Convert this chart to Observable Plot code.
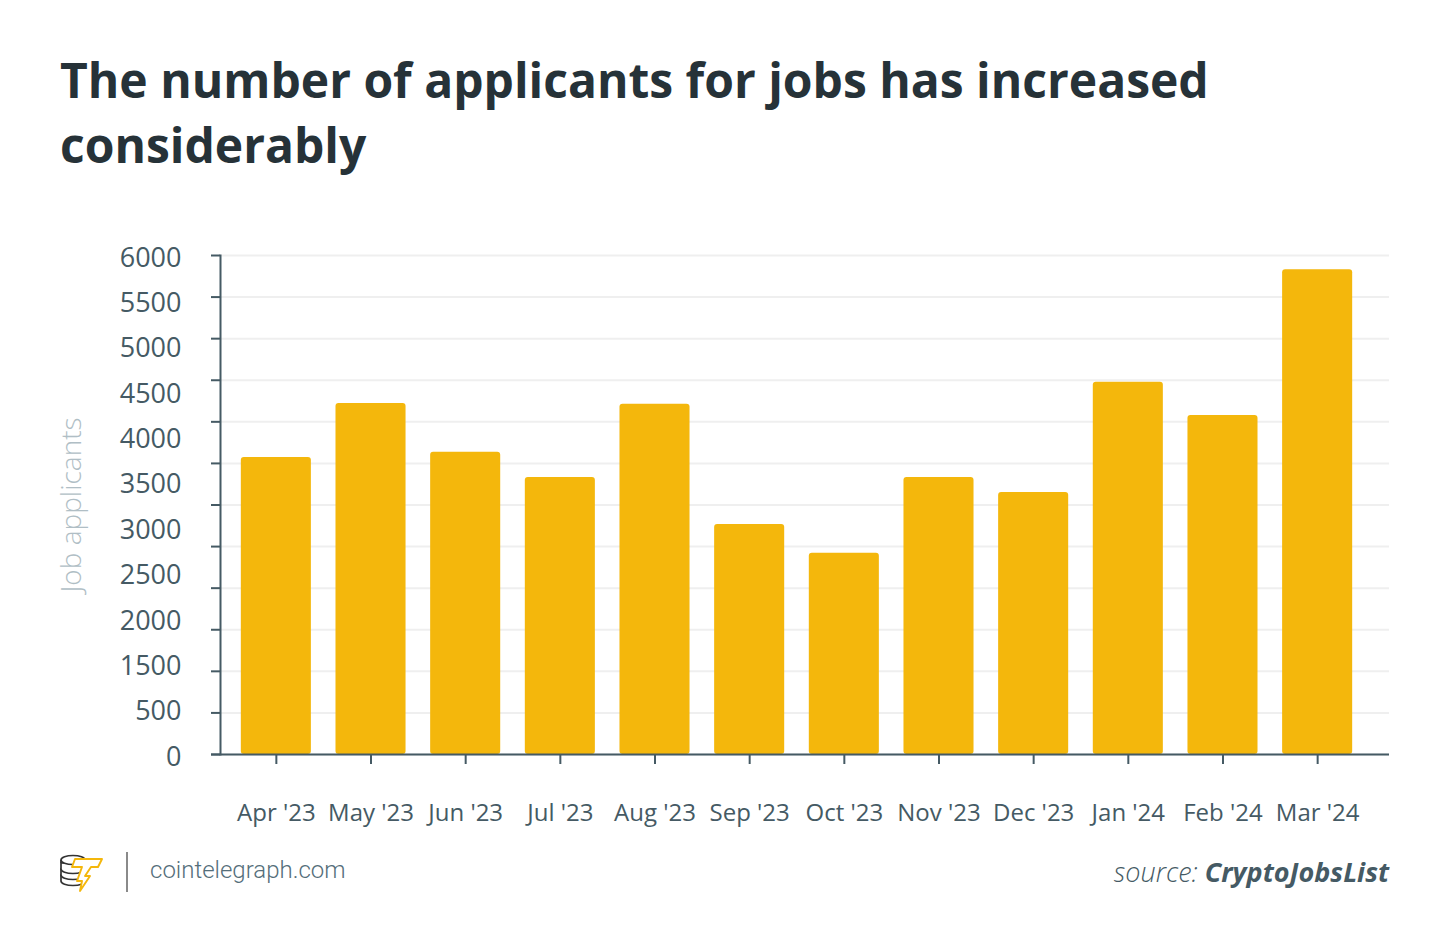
<!DOCTYPE html>
<html>
<head>
<meta charset="utf-8">
<script src="https://cdn.jsdelivr.net/npm/d3@7"></script>
<script src="https://cdn.jsdelivr.net/npm/@observablehq/plot@0.6"></script>
<style>
  html, body { margin: 0; padding: 0; background: #fff; }
  #root { position: relative; width: 1450px; height: 952px; background: #fff; overflow: hidden; }
  #title { position: absolute; left: 60px; top: 47px; font: 700 48px/65px 'Open Sans', sans-serif; color: #263238; white-space: nowrap; }
  #chart { position: absolute; left: 0; top: 230px; }
  #logo { position: absolute; left: 58px; top: 850px; }
  #divider { position: absolute; left: 126px; top: 852px; width: 2px; height: 40px; background: #8a8a8a; }
  #site { position: absolute; left: 150px; top: 858px; font: 300 24px/24px Roboto, sans-serif; color: #546e7a; white-space: nowrap; }
  #source { position: absolute; right: 61px; top: 858px; font: italic 300 27px/27px 'Open Sans', sans-serif; color: #455a64; white-space: nowrap; }
  #source b { font-weight: 700; }
</style>
</head>
<body>
<div id="root">
  <div id="title">The number of applicants for jobs has increased<br>considerably</div>
  <div id="chart"></div>
  <svg id="logo" width="46" height="44" viewBox="0 0 46 44">
    <g fill="#fff" stroke="#333" stroke-width="1.7">
      <path d="M3 31 a12 4.5 0 0 0 24 0 v-6 h-24 z"/>
      <path d="M3 25 a12 4.5 0 0 0 24 0 v-6 h-24 z"/>
      <path d="M3 19 a12 4.5 0 0 0 24 0 v-6 h-24 z"/>
      <ellipse cx="15" cy="10" rx="12" ry="4.5"/>
      <path d="M3 10 v3 M27 10 v3"/>
    </g>
    <path d="M17 9 L44 9 L40 17 L33 17 L27 26 L32 26 L22 41 L24 31 L19 31 L24 17 L14 17 Z" fill="#fff" stroke="#f4b70c" stroke-width="1.9" stroke-linejoin="round"/>
  </svg>
  <div id="divider"></div>
  <div id="site">cointelegraph.com</div>
  <div id="source">source: <b>CryptoJobsList</b></div>
</div>
<script>
const months = ["Apr '23", "May '23", "Jun '23", "Jul '23", "Aug '23", "Sep '23", "Oct '23", "Nov '23", "Dec '23", "Jan '24", "Feb '24", "Mar '24"];
const applicants = [3570, 4220, 3635, 3330, 4210, 2765, 2420, 3330, 3150, 4475, 4075, 5830];
const yTickLabels = ["6000", "5500", "5000", "4500", "4000", "3500", "3000", "2500", "2000", "1500", "500", "0"];
const gridValues = [0, 500, 1000, 1500, 2000, 2500, 3000, 3500, 4000, 4500, 5000, 5500, 6000];
const yMax = 6000;

const data = months.map((m, i) => ({month: m, value: applicants[i]}));
const axisColor = "#455a64";

const chart = Plot.plot({
  width: 1450,
  height: 610,
  marginTop: 25,
  marginBottom: 86,
  marginLeft: 220,
  marginRight: 61,
  style: {fontFamily: "'Open Sans', sans-serif", background: "transparent", overflow: "visible"},
  x: {domain: months, paddingInner: 0.26, paddingOuter: 0.22, insetRight: 16, round: false, label: null},
  y: {domain: [0, yMax], label: null},
  marks: [
    Plot.ruleY(gridValues, {stroke: "#efefef", strokeWidth: 2}),
    Plot.barY(data, {x: "month", y: "value", fill: "#f4b70c", rx: 3}),
    Plot.axisY({ticks: gridValues, tickSize: 9, tickFormat: () => "", stroke: axisColor, strokeWidth: 2, strokeOpacity: 1}),
    Plot.frame({anchor: "left", stroke: axisColor, strokeWidth: 2, strokeOpacity: 1}),
    Plot.ruleY([0], {stroke: axisColor, strokeWidth: 2, insetLeft: -9}),
    Plot.axisX({tickSize: 10, tickPadding: 39, fontSize: 24, color: axisColor, strokeWidth: 2, strokeOpacity: 1}),
    Plot.text(yTickLabels, {
      y: (d, i) => yMax - i * yMax / (yTickLabels.length - 1),
      frameAnchor: "left", textAnchor: "end", dx: -39, dy: 2.5,
      fontSize: 27, fill: axisColor
    }),
    Plot.text(["Job applicants"], {frameAnchor: "left", textAnchor: "middle", rotate: -90, dx: -148, fontSize: 28, fontWeight: 300, fill: "#b0bec5"})
  ]
});
document.getElementById("chart").appendChild(chart);
</script>
</body>
</html>
